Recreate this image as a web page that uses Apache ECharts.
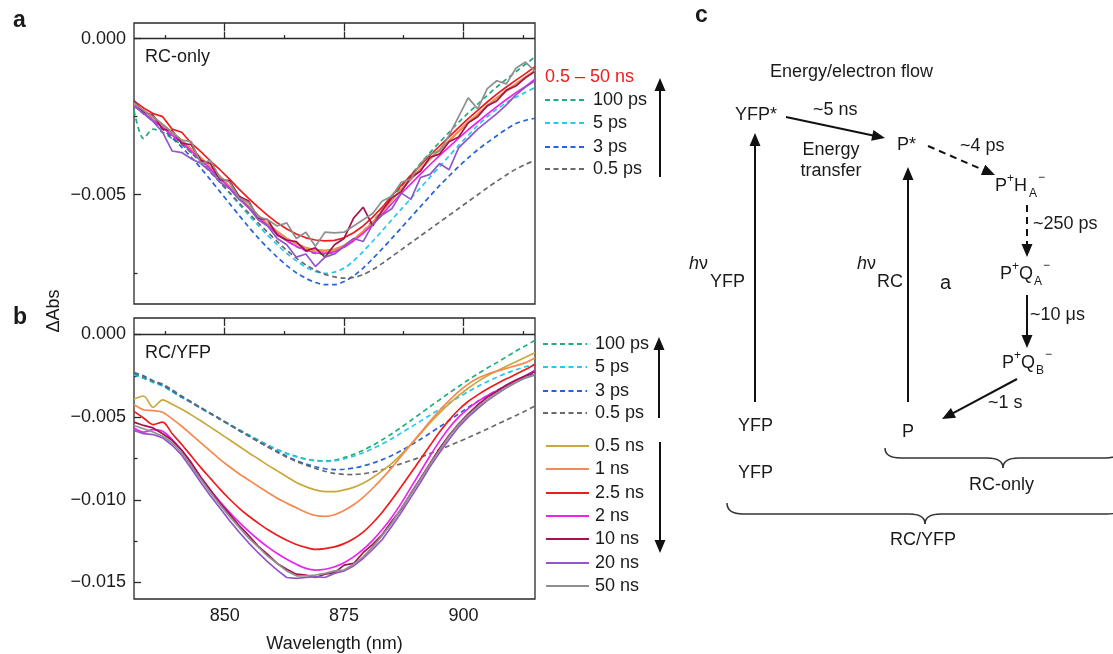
<!DOCTYPE html>
<html><head><meta charset="utf-8">
<script src="https://cdn.jsdelivr.net/npm/echarts@6/dist/echarts.min.js"></script>
<style>html,body{margin:0;padding:0;background:#fff}#c{width:1113px;height:654px}</style>
</head><body><div id="c"></div>
<script>
const wavelengths = [831,833,835,837,839,841,843,845,847,849,
  851,853,855,857,859,861,863,865,867,869,
  871,873,875,877,879,881,883,885,887,889,
  891,893,895,897,899,901,903,905,907,909,
  911,913,915];
const xMajorTicks = [850, 875, 900];
const xMinorTicks = [837.5, 862.5, 887.5, 912.5];
const aYMajor = [0, -0.005];
const aYMinor = [-0.0025, -0.0075];
const bYMajor = [0, -0.005, -0.010, -0.015];
const bYMinor = [-0.0025, -0.0075, -0.0125];
const psNames = ['100 ps', '5 ps', '3 ps', '0.5 ps'];
const nsNames = ['0.5 ns', '1 ns', '2.5 ns', '2 ns', '10 ns', '20 ns', '50 ns'];

// Panel a (RC-only)
const a_100ps = [-0.00230,-0.00320,-0.00290,-0.00300,-0.00320,-0.00340,-0.00365,-0.00392,-0.00420,-0.00450,
 -0.00480,-0.00512,-0.00543,-0.00572,-0.00600,-0.00625,-0.00648,-0.00666,-0.00680,-0.00688,
 -0.00690,-0.00684,-0.00668,-0.00645,-0.00617,-0.00584,-0.00550,-0.00512,-0.00474,-0.00437,
 -0.00400,-0.00365,-0.00332,-0.00300,-0.00268,-0.00238,-0.00210,-0.00182,-0.00155,-0.00130,
 -0.00106,-0.00082,-0.00058];
const a_5ps = [-0.00215,-0.00240,-0.00262,-0.00285,-0.00310,-0.00335,-0.00362,-0.00392,-0.00425,-0.00460,
 -0.00495,-0.00530,-0.00565,-0.00598,-0.00630,-0.00660,-0.00688,-0.00712,-0.00732,-0.00746,
 -0.00752,-0.00748,-0.00735,-0.00712,-0.00682,-0.00649,-0.00615,-0.00580,-0.00546,-0.00512,
 -0.00478,-0.00444,-0.00410,-0.00376,-0.00342,-0.00310,-0.00278,-0.00250,-0.00226,-0.00205,
 -0.00188,-0.00172,-0.00157];
const a_3ps = [-0.00215,-0.00240,-0.00265,-0.00290,-0.00318,-0.00348,-0.00380,-0.00415,-0.00452,-0.00490,
 -0.00528,-0.00566,-0.00603,-0.00638,-0.00670,-0.00700,-0.00727,-0.00750,-0.00768,-0.00781,
 -0.00788,-0.00788,-0.00778,-0.00760,-0.00735,-0.00705,-0.00673,-0.00640,-0.00606,-0.00572,
 -0.00538,-0.00504,-0.00471,-0.00440,-0.00410,-0.00382,-0.00356,-0.00333,-0.00311,-0.00290,
 -0.00272,-0.00262,-0.00255];
const a_05ps = [-0.00215,-0.00238,-0.00262,-0.00286,-0.00312,-0.00338,-0.00366,-0.00396,-0.00428,-0.00460,
 -0.00493,-0.00526,-0.00558,-0.00590,-0.00620,-0.00650,-0.00678,-0.00703,-0.00725,-0.00742,
 -0.00755,-0.00763,-0.00767,-0.00765,-0.00756,-0.00740,-0.00720,-0.00698,-0.00676,-0.00654,
 -0.00632,-0.00610,-0.00588,-0.00566,-0.00544,-0.00522,-0.00500,-0.00478,-0.00457,-0.00437,
 -0.00418,-0.00403,-0.00390];
const a_05ns = [-0.00215,-0.00232,-0.00250,-0.00275,-0.00300,-0.00325,-0.00352,-0.00380,-0.00410,-0.00440,
 -0.00472,-0.00503,-0.00535,-0.00565,-0.00593,-0.00617,-0.00640,-0.00658,-0.00672,-0.00680,
 -0.00682,-0.00678,-0.00665,-0.00645,-0.00620,-0.00590,-0.00555,-0.00518,-0.00484,-0.00452,
 -0.00420,-0.00388,-0.00358,-0.00329,-0.00299,-0.00270,-0.00244,-0.00217,-0.00192,-0.00169,
 -0.00147,-0.00126,-0.00104];
const a_1ns = [-0.00210,-0.00230,-0.00255,-0.00280,-0.00305,-0.00328,-0.00355,-0.00382,-0.00412,-0.00442,
 -0.00473,-0.00505,-0.00537,-0.00566,-0.00594,-0.00618,-0.00640,-0.00656,-0.00669,-0.00676,
 -0.00678,-0.00674,-0.00662,-0.00642,-0.00617,-0.00588,-0.00552,-0.00515,-0.00481,-0.00449,
 -0.00417,-0.00385,-0.00355,-0.00326,-0.00296,-0.00267,-0.00241,-0.00214,-0.00189,-0.00166,
 -0.00144,-0.00123,-0.00101];
const a_25ns = [-0.00200,-0.00222,-0.00240,-0.00250,-0.00290,-0.00300,-0.00335,-0.00362,-0.00392,-0.00420,
 -0.00450,-0.00482,-0.00512,-0.00540,-0.00566,-0.00590,-0.00610,-0.00626,-0.00638,-0.00645,
 -0.00648,-0.00646,-0.00638,-0.00622,-0.00600,-0.00572,-0.00540,-0.00503,-0.00470,-0.00438,
 -0.00406,-0.00374,-0.00344,-0.00315,-0.00285,-0.00256,-0.00230,-0.00203,-0.00178,-0.00155,
 -0.00133,-0.00112,-0.00090];
const a_2ns = [-0.00215,-0.00238,-0.00262,-0.00285,-0.00310,-0.00333,-0.00360,-0.00388,-0.00418,-0.00448,
 -0.00478,-0.00510,-0.00542,-0.00572,-0.00600,-0.00625,-0.00648,-0.00665,-0.00678,-0.00686,
 -0.00688,-0.00683,-0.00668,-0.00648,-0.00624,-0.00596,-0.00563,-0.00528,-0.00496,-0.00465,
 -0.00434,-0.00404,-0.00375,-0.00347,-0.00319,-0.00292,-0.00267,-0.00242,-0.00218,-0.00195,
 -0.00173,-0.00153,-0.00130];
const a_10ns = [-0.00200,-0.00235,-0.00245,-0.00290,-0.00295,-0.00335,-0.00340,-0.00390,-0.00400,-0.00452,
 -0.00455,-0.00505,-0.00520,-0.00575,-0.00580,-0.00630,-0.00645,-0.00650,-0.00680,-0.00670,
 -0.00700,-0.00660,-0.00640,-0.00575,-0.00540,-0.00600,-0.00550,-0.00510,-0.00490,-0.00445,
 -0.00425,-0.00380,-0.00370,-0.00330,-0.00315,-0.00270,-0.00250,-0.00215,-0.00200,-0.00165,
 -0.00152,-0.00125,-0.00105];
const a_20ns = [-0.00215,-0.00240,-0.00265,-0.00300,-0.00360,-0.00365,-0.00385,-0.00400,-0.00425,-0.00460,
 -0.00480,-0.00515,-0.00540,-0.00580,-0.00600,-0.00640,-0.00660,-0.00700,-0.00690,-0.00730,
 -0.00700,-0.00690,-0.00665,-0.00640,-0.00650,-0.00595,-0.00565,-0.00545,-0.00495,-0.00515,
 -0.00445,-0.00435,-0.00400,-0.00420,-0.00350,-0.00320,-0.00290,-0.00265,-0.00240,-0.00212,
 -0.00180,-0.00155,-0.00135];
const a_50ns = [-0.00205,-0.00230,-0.00250,-0.00275,-0.00300,-0.00325,-0.00330,-0.00400,-0.00390,-0.00445,
 -0.00460,-0.00510,-0.00525,-0.00570,-0.00580,-0.00600,-0.00590,-0.00640,-0.00620,-0.00665,
 -0.00620,-0.00622,-0.00620,-0.00600,-0.00580,-0.00560,-0.00520,-0.00505,-0.00460,-0.00450,
 -0.00400,-0.00370,-0.00360,-0.00310,-0.00250,-0.00190,-0.00225,-0.00160,-0.00135,-0.00145,
 -0.00095,-0.00075,-0.00105];

// Panel b (RC/YFP)
const b_100ps = [-0.00240,-0.00265,-0.00290,-0.00310,-0.00345,-0.00380,-0.00410,-0.00445,-0.00477,-0.00510,
 -0.00543,-0.00575,-0.00607,-0.00638,-0.00668,-0.00695,-0.00718,-0.00737,-0.00752,-0.00762,
 -0.00765,-0.00760,-0.00745,-0.00725,-0.00700,-0.00670,-0.00637,-0.00600,-0.00561,-0.00520,
 -0.00478,-0.00436,-0.00395,-0.00354,-0.00314,-0.00275,-0.00238,-0.00203,-0.00170,-0.00135,
 -0.00100,-0.00068,-0.00035];
const b_5ps = [-0.00245,-0.00262,-0.00285,-0.00310,-0.00345,-0.00380,-0.00412,-0.00447,-0.00480,-0.00512,
 -0.00545,-0.00578,-0.00610,-0.00641,-0.00671,-0.00698,-0.00721,-0.00740,-0.00755,-0.00764,
 -0.00767,-0.00764,-0.00753,-0.00736,-0.00715,-0.00690,-0.00662,-0.00630,-0.00595,-0.00560,
 -0.00524,-0.00488,-0.00452,-0.00416,-0.00380,-0.00346,-0.00314,-0.00285,-0.00258,-0.00234,
 -0.00213,-0.00195,-0.00180];
const b_3ps = [-0.00230,-0.00250,-0.00280,-0.00305,-0.00340,-0.00378,-0.00410,-0.00445,-0.00478,-0.00512,
 -0.00546,-0.00580,-0.00613,-0.00646,-0.00678,-0.00708,-0.00737,-0.00762,-0.00783,-0.00800,
 -0.00812,-0.00817,-0.00815,-0.00808,-0.00795,-0.00778,-0.00757,-0.00732,-0.00702,-0.00669,
 -0.00634,-0.00597,-0.00559,-0.00520,-0.00480,-0.00441,-0.00404,-0.00370,-0.00338,-0.00308,
 -0.00280,-0.00255,-0.00235];
const b_05ps = [-0.00235,-0.00258,-0.00282,-0.00300,-0.00335,-0.00372,-0.00407,-0.00442,-0.00476,-0.00510,
 -0.00545,-0.00580,-0.00614,-0.00648,-0.00680,-0.00712,-0.00742,-0.00768,-0.00790,-0.00810,
 -0.00827,-0.00840,-0.00846,-0.00847,-0.00842,-0.00832,-0.00818,-0.00800,-0.00781,-0.00762,
 -0.00742,-0.00720,-0.00697,-0.00673,-0.00649,-0.00624,-0.00598,-0.00571,-0.00544,-0.00517,
 -0.00490,-0.00462,-0.00432];
const b_05ns = [-0.00390,-0.00372,-0.00440,-0.00395,-0.00422,-0.00452,-0.00486,-0.00522,-0.00560,-0.00598,
 -0.00637,-0.00676,-0.00715,-0.00752,-0.00790,-0.00825,-0.00860,-0.00895,-0.00920,-0.00940,
 -0.00950,-0.00950,-0.00940,-0.00925,-0.00900,-0.00865,-0.00825,-0.00780,-0.00725,-0.00665,
 -0.00600,-0.00535,-0.00475,-0.00420,-0.00370,-0.00325,-0.00285,-0.00250,-0.00220,-0.00192,
 -0.00165,-0.00138,-0.00110];
const b_1ns = [-0.00425,-0.00455,-0.00460,-0.00470,-0.00510,-0.00555,-0.00605,-0.00655,-0.00705,-0.00755,
 -0.00800,-0.00842,-0.00880,-0.00918,-0.00955,-0.00990,-0.01020,-0.01048,-0.01075,-0.01095,
 -0.01100,-0.01090,-0.01065,-0.01030,-0.00985,-0.00930,-0.00870,-0.00805,-0.00735,-0.00665,
 -0.00595,-0.00525,-0.00460,-0.00400,-0.00345,-0.00300,-0.00265,-0.00240,-0.00222,-0.00205,
 -0.00188,-0.00170,-0.00140];
const b_25ns = [-0.00465,-0.00505,-0.00545,-0.00530,-0.00600,-0.00665,-0.00735,-0.00805,-0.00870,-0.00935,
 -0.00995,-0.01050,-0.01098,-0.01140,-0.01180,-0.01215,-0.01245,-0.01270,-0.01288,-0.01300,
 -0.01295,-0.01285,-0.01265,-0.01235,-0.01195,-0.01140,-0.01075,-0.01000,-0.00920,-0.00838,
 -0.00755,-0.00672,-0.00590,-0.00518,-0.00455,-0.00405,-0.00365,-0.00330,-0.00298,-0.00268,
 -0.00240,-0.00212,-0.00180];
const b_2ns = [-0.00565,-0.00590,-0.00575,-0.00585,-0.00635,-0.00700,-0.00780,-0.00862,-0.00940,-0.01010,
 -0.01075,-0.01135,-0.01190,-0.01240,-0.01285,-0.01325,-0.01360,-0.01390,-0.01415,-0.01425,
 -0.01420,-0.01405,-0.01380,-0.01345,-0.01300,-0.01245,-0.01180,-0.01105,-0.01020,-0.00925,
 -0.00830,-0.00735,-0.00645,-0.00565,-0.00500,-0.00448,-0.00405,-0.00370,-0.00340,-0.00310,
 -0.00282,-0.00250,-0.00215];
const b_10ns = [-0.00530,-0.00550,-0.00565,-0.00600,-0.00640,-0.00700,-0.00775,-0.00865,-0.00940,-0.01020,
 -0.01085,-0.01155,-0.01215,-0.01280,-0.01330,-0.01385,-0.01420,-0.01450,-0.01455,-0.01470,
 -0.01450,-0.01440,-0.01395,-0.01385,-0.01320,-0.01270,-0.01210,-0.01130,-0.01055,-0.00960,
 -0.00870,-0.00780,-0.00690,-0.00610,-0.00540,-0.00480,-0.00425,-0.00380,-0.00345,-0.00305,
 -0.00275,-0.00250,-0.00225];
const b_20ns = [-0.00580,-0.00600,-0.00605,-0.00625,-0.00670,-0.00730,-0.00810,-0.00895,-0.00975,-0.01050,
 -0.01125,-0.01195,-0.01260,-0.01320,-0.01375,-0.01425,-0.01470,-0.01475,-0.01470,-0.01465,
 -0.01470,-0.01445,-0.01430,-0.01400,-0.01355,-0.01300,-0.01240,-0.01160,-0.01075,-0.00985,
 -0.00895,-0.00800,-0.00715,-0.00635,-0.00560,-0.00500,-0.00448,-0.00400,-0.00360,-0.00322,
 -0.00290,-0.00262,-0.00245];
const b_50ns = [-0.00550,-0.00570,-0.00590,-0.00615,-0.00655,-0.00715,-0.00795,-0.00875,-0.00955,-0.01030,
 -0.01100,-0.01165,-0.01230,-0.01285,-0.01340,-0.01385,-0.01430,-0.01460,-0.01460,-0.01455,
 -0.01445,-0.01430,-0.01425,-0.01390,-0.01345,-0.01285,-0.01215,-0.01140,-0.01050,-0.00965,
 -0.00875,-0.00785,-0.00700,-0.00615,-0.00545,-0.00488,-0.00438,-0.00395,-0.00355,-0.00320,
 -0.00288,-0.00262,-0.00240];

const FONT = '"Liberation Sans", Arial, Helvetica, sans-serif';
const AX = '#2a2a2a';
const TXT = '#1a1a1a';
const C = {
  g100: '#1fae7a', c5: '#29c6ee', b3: '#2563d9', k05: '#6a6a6a',
  gold: '#c8a83c', orange: '#f48a4f', red: '#ee1c1c', mag: '#ee22ee',
  dred: '#a3134e', purple: '#9156c8', gray: '#8f8f8f'
};
const psColors = [C.g100, C.c5, C.b3, C.k05];
const nsColors = [C.gold, C.orange, C.red, C.mag, C.dred, C.purple, C.gray];
const DASH = [5, 3.5];

function mkSeries(name, vals, color, dashed, panel, smooth) {
  return {
    type: 'line', name: name,
    xAxisIndex: panel ? 3 : 0, yAxisIndex: panel ? 2 : 0,
    data: wavelengths.map((w, i) => [w, vals[i]]),
    showSymbol: false, symbol: 'none', smooth: smooth ? 0.3 : false,
    lineStyle: { color: color, width: 1.7, type: dashed ? DASH : 'solid' },
    itemStyle: { color: color }, silent: true, z: dashed ? 2 : 3
  };
}
function zeroLine() {
  return { silent: true, symbol: ['none', 'none'], label: { show: false },
    lineStyle: { color: AX, type: 'solid', width: 1.3 }, data: [{ yAxis: 0 }] };
}

const aPs = [a_100ps, a_5ps, a_3ps, a_05ps];
const aNs = [a_05ns, a_1ns, a_25ns, a_2ns, a_10ns, a_20ns, a_50ns];
const bPs = [b_100ps, b_5ps, b_3ps, b_05ps];
const bNs = [b_05ns, b_1ns, b_25ns, b_2ns, b_10ns, b_20ns, b_50ns];
const nsSmooth = [true, true, true, true, false, false, false];

const series = [];
aPs.forEach((v, i) => series.push(mkSeries('a ' + psNames[i], v, psColors[i], true, 0, true)));
aNs.forEach((v, i) => series.push(mkSeries('a ' + nsNames[i], v, nsColors[i], false, 0, false)));
bPs.forEach((v, i) => series.push(mkSeries('b ' + psNames[i], v, psColors[i], true, 1, true)));
bNs.forEach((v, i) => series.push(mkSeries('b ' + nsNames[i], v, nsColors[i], false, 1, nsSmooth[i])));
series[0].markLine = zeroLine();
series[11].markLine = zeroLine();

function xAx(grid, pos, ticks, len, labels) {
  const o = {
    type: 'value', gridIndex: grid, position: pos, min: 831, max: 915,
    axisLine: { show: false }, splitLine: { show: false },
    axisTick: { show: true, inside: true, length: len, customValues: ticks, lineStyle: { color: AX, width: 1.3 } },
    axisLabel: { show: !!labels, customValues: ticks, margin: 8, fontSize: 18, color: TXT, fontFamily: FONT }
  };
  if (labels) {
    o.name = 'Wavelength (nm)'; o.nameLocation = 'middle'; o.nameGap = 36;
    o.nameTextStyle = { fontSize: 18, color: TXT, fontFamily: FONT };
  }
  return o;
}
function fmtY(v) { return Math.abs(v) < 1e-9 ? '0.000' : '\u2212' + Math.abs(v).toFixed(3); }
function yAx(grid, min, max, ticks, len, labels) {
  return {
    type: 'value', gridIndex: grid, position: 'left', min: min, max: max,
    axisLine: { show: false }, splitLine: { show: false },
    axisTick: { show: true, inside: true, length: len, customValues: ticks, lineStyle: { color: AX, width: 1.3 } },
    axisLabel: { show: labels, customValues: ticks, margin: 8, fontSize: 18, color: TXT, fontFamily: FONT, formatter: fmtY }
  };
}

// ---------- graphic helpers (annotations, legend, scheme c) ----------
function txt(t, x, y, o) {
  o = o || {};
  const st = (o.it ? 'italic ' : '') + (o.w || 'normal') + ' ' + (o.s || 18) + 'px ' + FONT;
  return { type: 'text', x: x, y: y, silent: true, z: 100, rotation: o.rot || 0,
    style: { text: t, fill: o.fill || TXT, font: st, textAlign: o.a || 'left', align: o.a || 'left',
      textVerticalAlign: 'middle', verticalAlign: 'middle' } };
}
function seg(x1, y1, x2, y2, color, width, dash) {
  const s = { stroke: color, lineWidth: width };
  if (dash) s.lineDash = dash;
  return { type: 'line', silent: true, z: 100, shape: { x1: x1, y1: y1, x2: x2, y2: y2 }, style: s };
}
function arrow(x1, y1, x2, y2, dashed) {
  const dx = x2 - x1, dy = y2 - y1, L = Math.hypot(dx, dy), ux = dx / L, uy = dy / L;
  const hl = 13, hw = 5.5, bx = x2 - ux * hl, by = y2 - uy * hl;
  return [
    seg(x1, y1, bx + ux * 2, by + uy * 2, '#111', 2, dashed ? [7, 5] : null),
    { type: 'polygon', silent: true, z: 100,
      shape: { points: [[x2, y2], [bx - uy * hw, by + ux * hw], [bx + uy * hw, by - ux * hw]] },
      style: { fill: '#111' } }
  ];
}
function quad(x1, y1, cx, cy, x2, y2) {
  return { type: 'bezierCurve', silent: true, z: 100,
    shape: { x1: x1, y1: y1, cpx1: cx, cpy1: cy, x2: x2, y2: y2 },
    style: { stroke: '#333', lineWidth: 1.5, fill: 'none' } };
}
function brace(xl, xr, y0, ym, yt) {
  const xc = (xl + xr) / 2, r = 16;
  return [
    quad(xl, y0, xl, ym, xl + r, ym),
    seg(xl + r, ym, xc - r, ym, '#333', 1.5),
    quad(xc - r, ym, xc, ym, xc, yt),
    quad(xc, yt, xc, ym, xc + r, ym),
    seg(xc + r, ym, xr - r, ym, '#333', 1.5),
    quad(xr - r, ym, xr, ym, xr, y0)
  ];
}
function species(x, y, main2, sub) {
  // P+X_sub−
  return [
    txt('P', x, y), txt('+', x + 12, y - 7, { s: 12 }),
    txt(main2, x + 19, y), txt(sub, x + 34, y + 8, { s: 12 }), txt('\u2212', x + 43, y - 8, { s: 12 })
  ];
}

const G = [];
// panel letters
G.push(txt('a', 13, 21, { w: 'bold', s: 23 }));
G.push(txt('b', 13, 318, { w: 'bold', s: 23 }));
G.push(txt('c', 695, 16, { w: 'bold', s: 23 }));
G.push(txt('\u0394Abs', 54, 311, { a: 'center', rot: Math.PI / 2 }));
G.push(txt('RC-only', 145, 57));
G.push(txt('RC/YFP', 145, 353));

// legend a
G.push(txt('0.5 \u2013 50 ns', 545, 77, { fill: C.red }));
[100, 123, 147, 169].forEach((y, i) => {
  G.push(seg(545, y, 587, y, psColors[i], 1.8, DASH));
  G.push(txt(psNames[i], 593, y));
});
G.push(...arrow(660, 177, 660, 78, false));
// legend b
[344, 367, 391, 413].forEach((y, i) => {
  G.push(seg(543, y, 587, y, psColors[i], 1.8, DASH));
  G.push(txt(psNames[i], 595, y));
});
G.push(...arrow(659, 418, 659, 337, false));
[446, 469, 493, 516, 539, 563, 586].forEach((y, i) => {
  G.push(seg(546, y, 589, y, nsColors[i], 1.8));
  G.push(txt(nsNames[i], 595, y));
});
G.push(...arrow(660, 442, 660, 553, false));

// scheme c
G.push(txt('Energy/electron flow', 770, 72));
G.push(txt('YFP*', 735, 115));
G.push(...arrow(786, 117, 885, 138, false));
G.push(txt('~5 ns', 813, 110));
G.push(txt('Energy', 831, 150, { a: 'center' }));
G.push(txt('transfer', 831, 171, { a: 'center' }));
G.push(txt('P*', 897, 145));
G.push(...arrow(928, 146, 995, 175, true));
G.push(txt('~4 ps', 960, 146));
G.push(...species(995, 186, 'H', 'A'));
G.push(...arrow(1027, 205, 1027, 257, true));
G.push(txt('~250 ps', 1033, 224));
G.push(...species(1000, 274, 'Q', 'A'));
G.push(...arrow(1027, 295, 1027, 348, false));
G.push(txt('~10 \u03bcs', 1030, 315));
G.push(...species(1002, 363, 'Q', 'B'));
G.push(...arrow(1017, 379, 942, 419, false));
G.push(txt('~1 s', 988, 403));
G.push(...arrow(755, 402, 755, 133, false));
G.push(...arrow(908, 402, 908, 167, false));
G.push(txt('h', 689, 264, { it: true }));
G.push(txt('\u03bd', 699, 264));
G.push(txt('YFP', 710, 282));
G.push(txt('h', 857, 264, { it: true }));
G.push(txt('\u03bd', 867, 264));
G.push(txt('RC', 877, 282));
G.push(txt('a', 940, 283, { s: 20 }));
G.push(txt('YFP', 738, 426));
G.push(txt('P', 902, 432));
G.push(txt('YFP', 738, 473));
G.push(...brace(885, 1121, 448, 458, 468));
G.push(txt('RC-only', 969, 485));
G.push(...brace(727, 1123, 503, 514, 524));
G.push(txt('RC/YFP', 890, 540));

const option = {
  animation: false,
  backgroundColor: '#fff',
  textStyle: { fontFamily: FONT },
  grid: [
    { left: 134, top: 23, width: 401, height: 281, show: true, borderColor: AX, borderWidth: 1.3, backgroundColor: 'transparent' },
    { left: 134, top: 318, width: 401, height: 282, show: true, borderColor: AX, borderWidth: 1.3, backgroundColor: 'transparent' }
  ],
  xAxis: [
    xAx(0, 'bottom', xMajorTicks, 7, false),
    xAx(0, 'bottom', xMinorTicks, 3.5, false),
    xAx(0, 'top', xMajorTicks, 8, false),
    xAx(1, 'bottom', xMajorTicks, 7, true),
    xAx(1, 'bottom', xMinorTicks, 3.5, false),
    xAx(1, 'top', xMajorTicks, 8, false)
  ],
  yAxis: [
    yAx(0, -0.0085, 0.0005, aYMajor, 7, true),
    yAx(0, -0.0085, 0.0005, aYMinor, 3.5, false),
    yAx(1, -0.016, 0.001, bYMajor, 7, true),
    yAx(1, -0.016, 0.001, bYMinor, 3.5, false)
  ],
  series: series,
  graphic: G
};
const chart = echarts.init(document.getElementById('c'), null, { renderer: 'canvas' });
chart.setOption(option);
</script></body></html>
